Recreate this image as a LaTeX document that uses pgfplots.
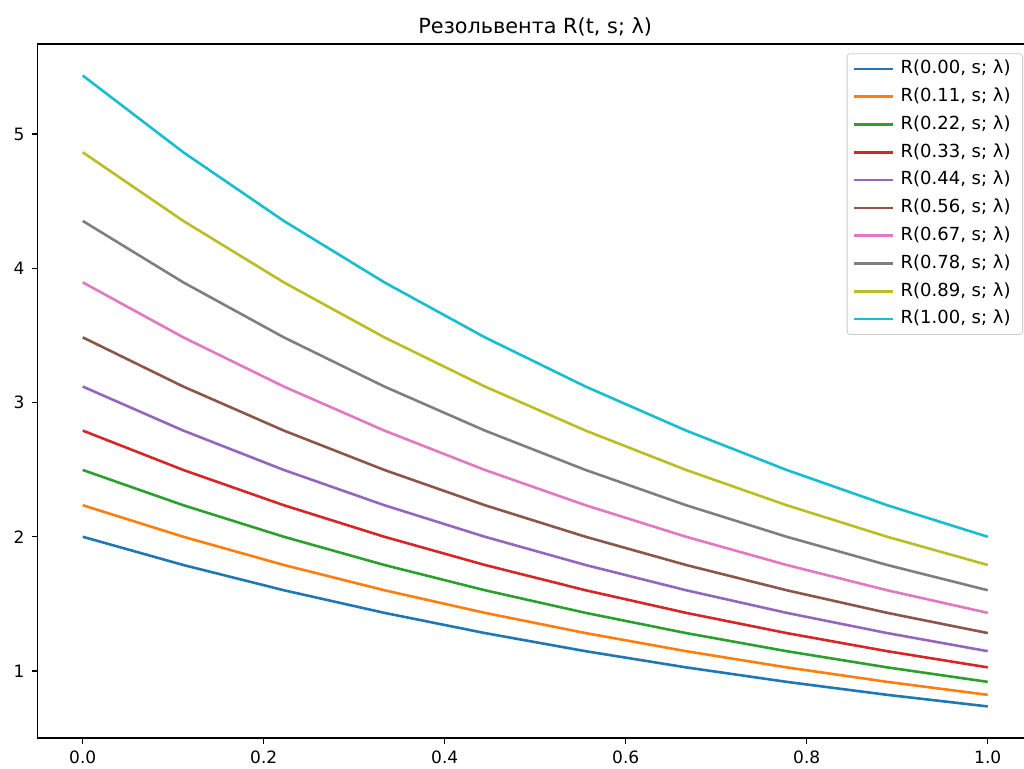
\documentclass[border=0pt]{standalone}
\usepackage{pgfplots}
\pgfplotsset{compat=1.18}
\usepackage{pgfplotstable}
\usepackage{fontspec}
\setmainfont{DejaVu Sans}

\definecolor{c0}{HTML}{1F77B4}
\definecolor{c1}{HTML}{FF7F0E}
\definecolor{c2}{HTML}{2CA02C}
\definecolor{c3}{HTML}{D62728}
\definecolor{c4}{HTML}{9467BD}
\definecolor{c5}{HTML}{8C564B}
\definecolor{c6}{HTML}{E377C2}
\definecolor{c7}{HTML}{7F7F7F}
\definecolor{c8}{HTML}{BCBD22}
\definecolor{c9}{HTML}{17BECF}

% s, then R(t_i, s) for t_i = 0, 1/9, ..., 1
\pgfplotstableread{
s      r0     r1     r2     r3     r4     r5     r6     r7     r8     r9
0.0000 2.0000 2.2350 2.4977 2.7912 3.1192 3.4858 3.8955 4.3532 4.8648 5.4366
0.1111 1.7897 2.0000 2.2350 2.4977 2.7912 3.1192 3.4858 3.8955 4.3532 4.8648
0.2222 1.6015 1.7897 2.0000 2.2350 2.4977 2.7912 3.1192 3.4858 3.8955 4.3532
0.3333 1.4331 1.6015 1.7897 2.0000 2.2350 2.4977 2.7912 3.1192 3.4858 3.8955
0.4444 1.2824 1.4331 1.6015 1.7897 2.0000 2.2350 2.4977 2.7912 3.1192 3.4858
0.5556 1.1475 1.2824 1.4331 1.6015 1.7897 2.0000 2.2350 2.4977 2.7912 3.1192
0.6667 1.0268 1.1475 1.2824 1.4331 1.6015 1.7897 2.0000 2.2350 2.4977 2.7912
0.7778 0.9189 1.0268 1.1475 1.2824 1.4331 1.6015 1.7897 2.0000 2.2350 2.4977
0.8889 0.8222 0.9189 1.0268 1.1475 1.2824 1.4331 1.6015 1.7897 2.0000 2.2350
1.0000 0.7358 0.8222 0.9189 1.0268 1.1475 1.2824 1.4331 1.6015 1.7897 2.0000
}\data

\begin{document}
\begin{tikzpicture}[font=\fontsize{8.5}{10}\selectfont]
\begin{axis}[
  name=ax, at={(0,0)}, anchor=south west,
  scale only axis,
  width=497.75pt, height=347pt,
  xmin=-0.05, xmax=1.05,
  ymin=0.50076, ymax=5.67164,
  xtick={0,0.2,0.4,0.6,0.8,1.0},
  ytick={1,2,3,4,5},
  xticklabel style={/pgf/number format/fixed, /pgf/number format/fixed zerofill, /pgf/number format/precision=1},
  /pgf/number format/assume math mode=true,
  tick align=outside, tick pos=left,
  major tick length=3pt,
  tick style={black, line width=0.7pt},
  axis line style={line width=0.7pt},
  title={Резольвента R(t, s; λ)},
  title style={font=\fontsize{10.4}{12}\selectfont, at={(0.5,1)}, anchor=south, yshift=-5.5pt},
  legend cell align=left,
  legend style={at={(1,1)}, anchor=north east, xshift=-5pt, yshift=-4.65pt,
    draw=black!20, rounded corners=1.5pt, fill=white, fill opacity=0.8, text opacity=1,
    font=\fontsize{9}{10.5}\selectfont, row sep=5pt, inner xsep=3pt, inner ysep=3.2pt,
    nodes={inner sep=0pt, text height=6.8pt, text depth=2.1pt, inner xsep=3pt}},
  legend image code/.code={\draw[line width=1.3pt] (-3pt,0pt) -- (16.5pt,0pt);},
  every axis plot/.append style={line width=1.3pt},
]
\addplot[c0] table[x=s, y=r0] {\data}; \addlegendentry{R(0.00, s; λ)}
\addplot[c1] table[x=s, y=r1] {\data}; \addlegendentry{R(0.11, s; λ)}
\addplot[c2] table[x=s, y=r2] {\data}; \addlegendentry{R(0.22, s; λ)}
\addplot[c3] table[x=s, y=r3] {\data}; \addlegendentry{R(0.33, s; λ)}
\addplot[c4] table[x=s, y=r4] {\data}; \addlegendentry{R(0.44, s; λ)}
\addplot[c5] table[x=s, y=r5] {\data}; \addlegendentry{R(0.56, s; λ)}
\addplot[c6] table[x=s, y=r6] {\data}; \addlegendentry{R(0.67, s; λ)}
\addplot[c7] table[x=s, y=r7] {\data}; \addlegendentry{R(0.78, s; λ)}
\addplot[c8] table[x=s, y=r8] {\data}; \addlegendentry{R(0.89, s; λ)}
\addplot[c9] table[x=s, y=r9] {\data}; \addlegendentry{R(1.00, s; λ)}
\end{axis}
\pgfresetboundingbox
\useasboundingbox (-18.75pt,-15.5pt) rectangle (493.25pt,369pt);
\end{tikzpicture}
\end{document}
